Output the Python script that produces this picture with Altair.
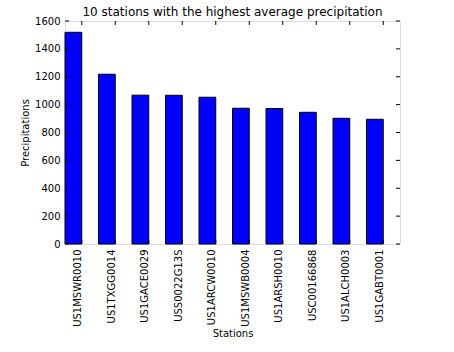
import altair as alt
import pandas as pd

stations = ["US1MSWR0010", "US1TXGG0014", "US1GACE0029", "USS0022G13S", "US1ARCW0010",
            "US1MSWB0004", "US1ARSH0010", "USC00166868", "US1ALCH0003", "US1GABT0001"]
precip = [1519, 1218, 1068, 1067, 1053, 974, 972, 945, 902, 895]
yticks = [0, 200, 400, 600, 800, 1000, 1200, 1400, 1600]

df = pd.DataFrame({"station": stations, "precip": precip})
tdf = pd.DataFrame({"v": yticks})

W, H = 335, 223
FONT = "DejaVu Sans"

xscale = alt.Scale(paddingInner=0.5, paddingOuter=0.25, align=0)
yscale = alt.Scale(domain=[0, 1600], nice=False)

xaxis = alt.Axis(title="Stations", labelAngle=270, ticks=False, domain=False,
                 labelPadding=5, labelOffset=5, labelFontSize=10, titleFontSize=10,
                 labelOverlap=False,
                 labelColor="black", titleColor="black", titleFontWeight="normal",
                 titlePadding=2, labelFont=FONT, titleFont=FONT)
yaxis = alt.Axis(title="Precipitations", values=yticks, ticks=False, domain=False,
                 format="d", labelOverlap=False,
                 grid=False, labelPadding=5, labelFontSize=10, titleFontSize=10,
                 labelColor="black", titleColor="black", titleFontWeight="normal",
                 titlePadding=4, labelFont=FONT, titleFont=FONT)

bars = alt.Chart(df).mark_bar(color="#0000ff", stroke="black", strokeWidth=1).encode(
    x=alt.X("station:N", sort=None, scale=xscale, axis=xaxis),
    y=alt.Y("precip:Q", scale=yscale, axis=yaxis, title="Precipitations"),
)

yl = alt.Chart(tdf).mark_rule(color="black", strokeWidth=1).encode(
    y=alt.Y("v:Q", scale=yscale, axis=yaxis, title="Precipitations"), x=alt.value(0), x2=alt.value(4))
yr = alt.Chart(tdf).mark_rule(color="black", strokeWidth=1).encode(
    y=alt.Y("v:Q", scale=yscale, axis=yaxis, title="Precipitations"), x=alt.value(W - 4), x2=alt.value(W))
xt = alt.Chart(df).mark_rule(color="black", strokeWidth=1).encode(
    x=alt.X("station:N", sort=None, scale=xscale, bandPosition=1, axis=xaxis),
    y=alt.value(0), y2=alt.value(4))
xb = alt.Chart(df).mark_rule(color="black", strokeWidth=1).encode(
    x=alt.X("station:N", sort=None, scale=xscale, bandPosition=1, axis=xaxis),
    y=alt.value(H - 4), y2=alt.value(H))

chart = alt.layer(bars, yl, yr, xt, xb).properties(
    width=W, height=H,
    title=alt.Title("10 stations with the highest average precipitation",
                    fontSize=12, font=FONT, fontWeight="normal", color="black",
                    frame="group", offset=-3),
    autosize=alt.AutoSizeParams(type="none"),
    padding={"left": 65, "top": 21, "right": 54, "bottom": 108},
).configure_view(stroke="black", strokeWidth=1).configure(background="white")

chart.save("out.html", embed_options={"renderer": "svg", "actions": False})
